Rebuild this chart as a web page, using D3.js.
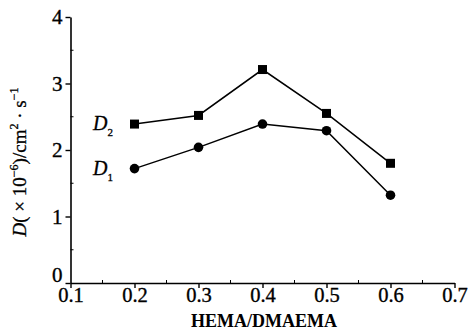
<!DOCTYPE html>
<html>
<head>
<meta charset="utf-8">
<script src="https://cdn.jsdelivr.net/npm/d3@7"></script>
<style>
  html, body { margin: 0; padding: 0; background: #fff; }
  svg { display: block; }
  text { font-family: "Liberation Serif", "Times New Roman", serif; fill: #000; }
</style>
</head>
<body>
<svg id="chart" width="468" height="332"></svg>
<script>
// HEMA/DMAEMA ratio and diffusion coefficients (×10⁻⁶ cm²·s⁻¹)
const ratios = [0.2, 0.3, 0.4, 0.5, 0.6];
const d1Values = [1.72, 2.04, 2.39, 2.29, 1.32];
const d2Values = [2.39, 2.52, 3.21, 2.55, 1.80];
const xTicks = [0.1, 0.2, 0.3, 0.4, 0.5, 0.6, 0.7];
const yTicks = [0, 1, 2, 3, 4];

const svg = d3.select("#chart");
const x = d3.scaleLinear().domain([0.1, 0.7]).range([70.5, 454.5]);
const y = d3.scaleLinear().domain([0, 4]).range([283, 17]);

// x axis: outward major ticks, inward minor ticks
const gx = svg.append("g").attr("transform", `translate(0,${y(0)})`)
  .call(d3.axisBottom(x).tickValues(xTicks).tickFormat(d3.format(".1f")).tickSizeInner(5).tickSizeOuter(0).tickPadding(0));
gx.selectAll("text").attr("font-size", 20.5).attr("y", 18.5).attr("dy", null)
  .attr("stroke", "#000").attr("stroke-width", 0.35);
gx.append("g").selectAll("line").data([0.15, 0.25, 0.35, 0.45, 0.55, 0.65]).join("line")
  .attr("x1", d => x(d)).attr("x2", d => x(d)).attr("y1", 0).attr("y2", -3).attr("stroke", "#000");

// y axis
const gy = svg.append("g").attr("transform", `translate(${x(0.1)},0)`)
  .call(d3.axisLeft(y).tickValues(yTicks).tickFormat(d3.format("d")).tickSizeInner(5).tickSizeOuter(0).tickPadding(3));
gy.selectAll("text").attr("font-size", 21).attr("dy", d => d === 0 ? "-0.05em" : "0.33em")
  .attr("stroke", "#000").attr("stroke-width", 0.35);
gy.append("g").selectAll("line").data([0.5, 1.5, 2.5, 3.5]).join("line")
  .attr("x1", 0).attr("x2", 3).attr("y1", d => y(d)).attr("y2", d => y(d)).attr("stroke", "#000");
svg.selectAll("g").attr("font-family", null);
svg.selectAll(".domain").attr("stroke-width", 1.6);
svg.selectAll(".tick line").attr("stroke-width", 1.4);

// axis titles
svg.append("text").attr("x", 264).attr("y", 327).attr("text-anchor", "middle")
  .attr("font-size", 18).attr("font-weight", "bold").text("HEMA/DMAEMA");

const yl = svg.append("text").attr("transform", "translate(26,162) rotate(-90)")
  .attr("text-anchor", "middle").attr("font-size", 19)
  .attr("stroke", "#000").attr("stroke-width", 0.3);
yl.append("tspan").attr("font-style", "italic").text("D");
yl.append("tspan").text("( × 10");
yl.append("tspan").attr("font-size", 12).attr("dy", -8).text("−6");
yl.append("tspan").attr("dy", 8).text(")/cm");
yl.append("tspan").attr("font-size", 12).attr("dy", -8).text("2");
yl.append("tspan").attr("dy", 8).text(" · s");
yl.append("tspan").attr("font-size", 12).attr("dy", -8).text("−1");

// series
const line = d3.line().x((d, i) => x(ratios[i])).y(d => y(d));
[d1Values, d2Values].forEach(vals => {
  svg.append("path").datum(vals).attr("d", line).attr("fill", "none")
    .attr("stroke", "#000").attr("stroke-width", 1.5);
});
svg.append("g").selectAll("circle").data(d1Values).join("circle")
  .attr("cx", (d, i) => x(ratios[i])).attr("cy", d => y(d)).attr("r", 4.8).attr("fill", "#000");
svg.append("g").selectAll("rect").data(d2Values).join("rect")
  .attr("x", (d, i) => x(ratios[i]) - 4.5).attr("y", d => y(d) - 4.5)
  .attr("width", 9).attr("height", 9).attr("fill", "#000");

// series labels
function seriesLabel(sub, val) {
  const t = svg.append("text").attr("x", 93).attr("y", y(val) + 6).attr("font-size", 20)
    .attr("stroke", "#000").attr("stroke-width", 0.3);
  t.append("tspan").attr("font-style", "italic").text("D");
  t.append("tspan").attr("font-size", 11).attr("dy", 6).text(sub);
}
seriesLabel("2", d2Values[0]);
seriesLabel("1", d1Values[0]);
</script>
</body>
</html>
